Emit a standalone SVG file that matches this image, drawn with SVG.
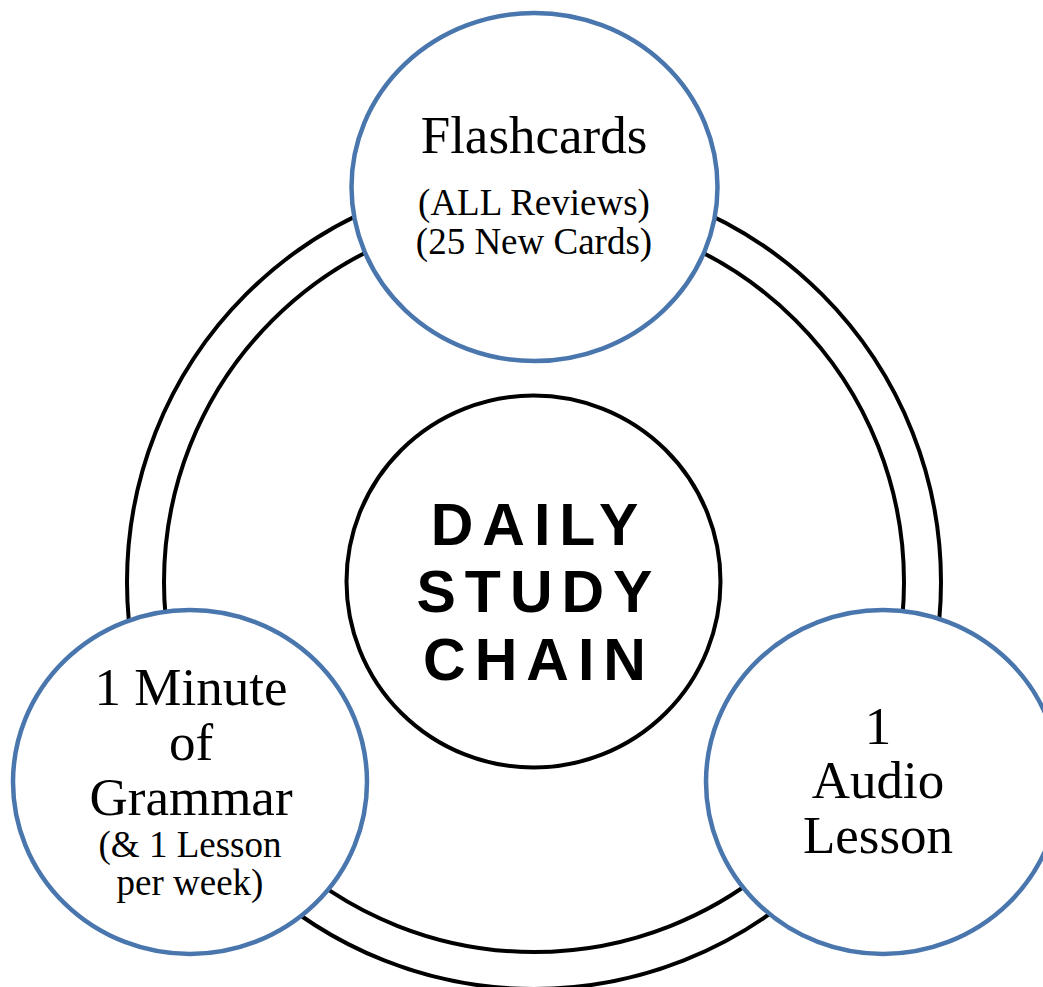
<svg xmlns="http://www.w3.org/2000/svg" width="1043" height="987" viewBox="0 0 1043 987">
<style>
.ring{fill:none;stroke:#000;stroke-width:4}
.hub{fill:#fff;stroke:#000;stroke-width:4}
.node{fill:#fff;stroke:#4A76AE;stroke-width:4.5}
.big{font-family:"Liberation Serif","Times New Roman",serif;font-size:53px;fill:#000;text-anchor:middle}
.small{font-family:"Liberation Serif","Times New Roman",serif;font-size:37px;fill:#000;text-anchor:middle}
.title{font-family:"Liberation Sans",Arial,sans-serif;font-weight:bold;font-size:59px;letter-spacing:9px;fill:#000;text-anchor:middle}
</style>
<rect width="1043" height="987" fill="#fff"/>
<g id="connectors">
<circle class="ring" cx="534" cy="582" r="407"/>
<circle class="ring" cx="534" cy="582" r="370"/>
</g>
<g id="center">
<ellipse class="hub" cx="533.5" cy="581.5" rx="187" ry="186"/>
<text class="title" x="539" y="545">DAILY</text>
<text class="title" x="539" y="612">STUDY</text>
<text class="title" x="539" y="680">CHAIN</text>
</g>
<g id="flashcards">
<ellipse class="node" cx="534.5" cy="187" rx="183" ry="174"/>
<text class="big" x="534" y="153">Flashcards</text>
<text class="small" x="534" y="215">(ALL Reviews)</text>
<text class="small" x="534" y="254">(25 New Cards)</text>
</g>
<g id="grammar">
<ellipse class="node" cx="190" cy="782" rx="177" ry="172"/>
<text class="big" x="191" y="705">1 Minute</text>
<text class="big" x="191" y="760">of</text>
<text class="big" x="191" y="815">Grammar</text>
<text class="small" x="190" y="857">(&amp; 1 Lesson</text>
<text class="small" x="190" y="895">per week)</text>
</g>
<g id="audio">
<ellipse class="node" cx="883" cy="782" rx="177" ry="172"/>
<text class="big" x="878" y="744">1</text>
<text class="big" x="878" y="798">Audio</text>
<text class="big" x="878" y="853">Lesson</text>
</g>
</svg>
